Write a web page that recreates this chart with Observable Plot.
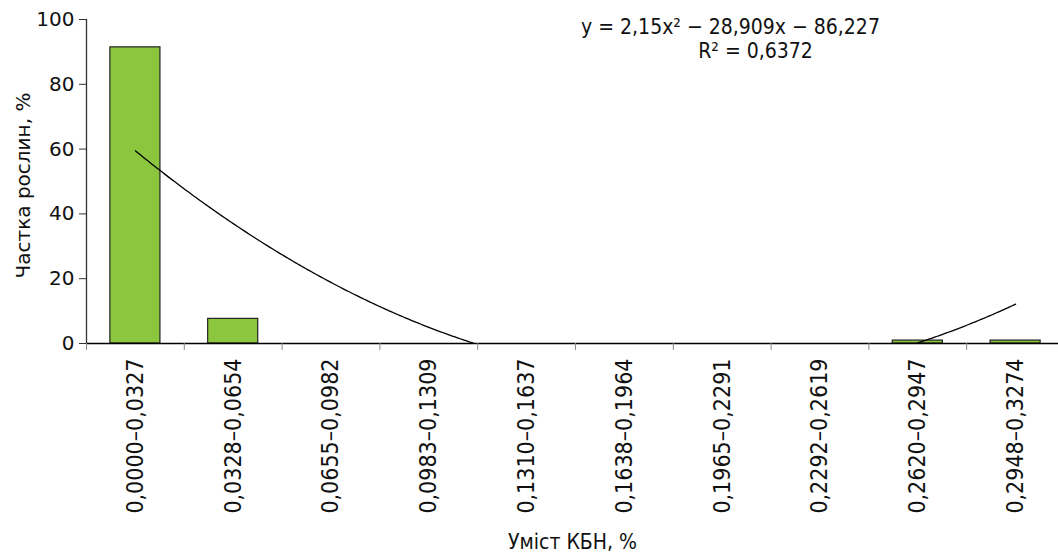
<!DOCTYPE html>
<html><head><meta charset="utf-8">
<script src="https://cdn.jsdelivr.net/npm/d3@7"></script>
<script src="https://cdn.jsdelivr.net/npm/@observablehq/plot@0.6"></script>
<style>
html,body{margin:0;padding:0;background:#fff;}
#chart svg{display:block;}
</style>
</head><body><div id="chart"></div>
<script>
const categories = ["0,0000–0,0327","0,0328–0,0654","0,0655–0,0982","0,0983–0,1309","0,1310–0,1637","0,1638–0,1964","0,1965–0,2291","0,2292–0,2619","0,2620–0,2947","0,2948–0,3274"];
const shares = [91.4, 7.6, 0, 0, 0, 0, 0, 0, 0.9, 0.9];
const yTicks = [0, 20, 40, 60, 80, 100];
const trendCoef = [2.15, -28.909, 86.227]; // a, b, c  (y = a x^2 + b x + c)
const equationText = ["y = 2,15x² − 28,909x − 86,227", "R² = 0,6372"];
const yTitle = "Частка рослин, %";
const xTitle = "Уміст КБН, %";

const bars = categories.map((c, i) => ({i: i + 1, cat: c, v: shares[i]}));
const bounds = d3.range(0, categories.length + 1).map(k => k + 0.5);
const trend = d3.range(1, categories.length + 0.001, 0.02).map(x => ({x, y: trendCoef[0]*x*x + trendCoef[1]*x + trendCoef[2]}));

const condensed = "'DejaVu Sans Condensed', 'DejaVu Sans', sans-serif";
const chart = Plot.plot({
  width: 1058, height: 555,
  marginTop: 19, marginBottom: 212, marginLeft: 86, marginRight: 0,
  style: {fontFamily: "'DejaVu Sans', sans-serif", background: "#fff", overflow: "hidden"},
  x: {type: "linear", domain: [0.5, categories.length + 0.5], range: [86, 1064]},
  y: {domain: [0, 100]},
  marks: [
    Plot.rectY(bars, {x1: d => d.i - 0.256, x2: d => d.i + 0.256, y: "v", fill: "#8cc63f", stroke: "#222", strokeWidth: 1.2}),
    Plot.line(trend, {x: "x", y: "y", stroke: "#000", strokeWidth: 1.3, clip: "frame"}),
    Plot.ruleX([0.5], {stroke: "#333", strokeWidth: 1.3}),
    Plot.ruleY([0], {stroke: "#000", strokeWidth: 1.5}),
    Plot.axisY({ticks: yTicks, tickSize: 7, tickPadding: 5, fontSize: 20, stroke: "#333", label: null, fill: "#111"}),
    Plot.axisX({ticks: bounds, tickSize: 7, tickFormat: () => "", stroke: "#888", label: null}),
    Plot.axisX({ticks: d3.range(1, categories.length + 1), tickSize: 0, tickPadding: 15, tickRotate: -90,
      tickFormat: i => categories[i - 1], fontSize: 23, fontFamily: condensed, label: null, fill: "#111"}),
    Plot.text([equationText[0]], {frameAnchor: "top-left", dx: 730 - 86, dy: 27 - 19, textAnchor: "middle", lineAnchor: "middle", fontSize: 21, fontFamily: condensed, fill: "#111"}),
    Plot.text([equationText[1]], {frameAnchor: "top-left", dx: 755 - 86, dy: 51 - 19, textAnchor: "middle", lineAnchor: "middle", fontSize: 21, fontFamily: condensed, fill: "#111"}),
    Plot.text([yTitle], {frameAnchor: "left", dx: -63, dy: 4, rotate: -90, textAnchor: "middle", fontSize: 20, fill: "#111"}),
    Plot.text([xTitle], {frameAnchor: "bottom", dy: 199, lineAnchor: "middle", fontSize: 21, fontFamily: condensed, fill: "#111"})
  ]
});
document.getElementById("chart").appendChild(chart);
</script>
</body></html>
